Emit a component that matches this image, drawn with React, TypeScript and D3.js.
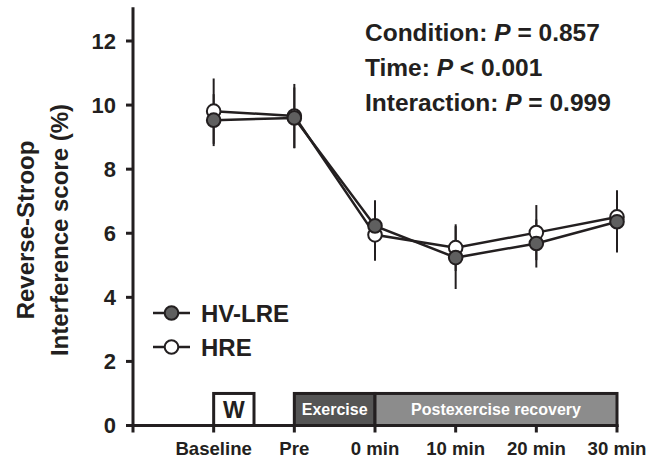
import React, { useRef, useEffect } from 'react';
import * as d3 from 'd3';

const categories = ['Baseline', 'Pre', '0 min', '10 min', '20 min', '30 min'];
const hvlreMean = [9.53, 9.6, 6.23, 5.24, 5.68, 6.36];
const hvlreSE = [0.81, 0.95, 0.8, 0.98, 0.75, 0.96];
const hreMean = [9.81, 9.66, 5.95, 5.55, 6.02, 6.51];
const hreSE = [1.02, 1.0, 0.81, 0.73, 0.86, 0.83];
const yTicks = [0, 2, 4, 6, 8, 10, 12];
const statLines = [
  { label: 'Condition: ', rel: ' = ', value: '0.857' },
  { label: 'Time: ', rel: ' < ', value: '0.001' },
  { label: 'Interaction: ', rel: ' = ', value: '0.999' },
];
// phase boxes: [start index, end index, label, fill]
const phases: [number, number, string, string][] = [
  [0, 0.5, 'W', '#ffffff'],
  [1, 2, 'Exercise', '#555555'],
  [2, 5, 'Postexercise recovery', '#8c8c8c'],
];

const INK = '#231f20';
const FONT = 'Liberation Sans, Arial, sans-serif';

function App() {
  const svgRef = useRef<SVGSVGElement>(null);

  useEffect(() => {
    const svg = d3.select(svgRef.current);
    svg.selectAll('*').remove();

    const x = d3.scaleLinear().domain([-1, 5]).range([133, 617]);
    const y = d3.scaleLinear().domain([0, 12]).range([425.5, 41]);

    // phase boxes
    phases.forEach(([a, b, label, fill]) => {
      svg
        .append('rect')
        .attr('x', x(a))
        .attr('y', y(1))
        .attr('width', x(b) - x(a))
        .attr('height', y(0) - y(1))
        .attr('fill', fill)
        .attr('stroke', INK)
        .attr('stroke-width', 3);
      const isW = label === 'W';
      svg
        .append('text')
        .attr('x', (x(a) + x(b)) / 2)
        .attr('y', (y(0) + y(1)) / 2)
        .attr('dy', '0.36em')
        .attr('text-anchor', 'middle')
        .attr('font-family', FONT)
        .attr('font-weight', 'bold')
        .attr('font-size', isW ? 23 : 16)
        .attr('fill', isW ? INK : '#ffffff')
        .text(label);
    });

    // axes
    const axisG = svg.append('g').attr('stroke', INK).attr('stroke-width', 3);
    axisG
      .append('line')
      .attr('x1', x(-1))
      .attr('x2', x(-1))
      .attr('y1', y(13.05))
      .attr('y2', y(0) + 1.5);
    axisG
      .append('line')
      .attr('x1', x(-1) - 1.5)
      .attr('x2', x(5) + 1.5)
      .attr('y1', y(0))
      .attr('y2', y(0));

    yTicks.forEach((t) => {
      axisG
        .append('line')
        .attr('x1', x(-1) - 7)
        .attr('x2', x(-1))
        .attr('y1', y(t))
        .attr('y2', y(t));
      svg
        .append('text')
        .attr('x', 116)
        .attr('y', y(t))
        .attr('dy', '0.36em')
        .attr('text-anchor', 'end')
        .attr('font-family', FONT)
        .attr('font-weight', 'bold')
        .attr('font-size', 22)
        .attr('fill', INK)
        .text(t);
    });

    [-1, 0, 1, 2, 3, 4, 5].forEach((i) => {
      axisG
        .append('line')
        .attr('x1', x(i))
        .attr('x2', x(i))
        .attr('y1', y(0))
        .attr('y2', y(0) + 7);
    });

    categories.forEach((c, i) => {
      svg
        .append('text')
        .attr('x', x(i))
        .attr('y', 455)
        .attr('text-anchor', 'middle')
        .attr('font-family', FONT)
        .attr('font-weight', 'bold')
        .attr('font-size', 18.6)
        .attr('fill', INK)
        .text(c);
    });

    // y title
    const title = svg
      .append('text')
      .attr('transform', 'translate(0,230) rotate(-90)')
      .attr('text-anchor', 'middle')
      .attr('font-family', FONT)
      .attr('font-weight', 'bold')
      .attr('font-size', 24)
      .attr('fill', INK);
    title.append('tspan').attr('x', 0).attr('y', 34).text('Reverse-Stroop');
    title.append('tspan').attr('x', 0).attr('y', 68).text('Interference score (%)');

    // series
    const series = [
      { mean: hreMean, se: hreSE, fill: '#ffffff' },
      { mean: hvlreMean, se: hvlreSE, fill: '#5f5f5f' },
    ];

    series.forEach((s) => {
      s.mean.forEach((m, i) => {
        svg
          .append('line')
          .attr('x1', x(i))
          .attr('x2', x(i))
          .attr('y1', y(m + s.se[i]))
          .attr('y2', y(m - s.se[i]))
          .attr('stroke', INK)
          .attr('stroke-width', 2);
      });
    });

    const line = d3
      .line<number>()
      .x((_, i) => x(i))
      .y((d) => y(d));

    series.forEach((s) => {
      svg
        .append('path')
        .datum(s.mean)
        .attr('fill', 'none')
        .attr('stroke', INK)
        .attr('stroke-width', 2.5)
        .attr('d', line);
      svg
        .selectAll(null)
        .data(s.mean)
        .enter()
        .append('circle')
        .attr('cx', (_, i) => x(i))
        .attr('cy', (d) => y(d))
        .attr('r', 6.8)
        .attr('fill', s.fill)
        .attr('stroke', INK)
        .attr('stroke-width', 2);
    });

    // legend
    const legend = [
      { label: 'HV-LRE', fill: '#5f5f5f', cy: 313 },
      { label: 'HRE', fill: '#ffffff', cy: 347 },
    ];
    legend.forEach((l) => {
      svg
        .append('line')
        .attr('x1', 153)
        .attr('x2', 190)
        .attr('y1', l.cy)
        .attr('y2', l.cy)
        .attr('stroke', INK)
        .attr('stroke-width', 2.5);
      svg
        .append('circle')
        .attr('cx', 171.5)
        .attr('cy', l.cy)
        .attr('r', 6.8)
        .attr('fill', l.fill)
        .attr('stroke', INK)
        .attr('stroke-width', 2);
      svg
        .append('text')
        .attr('x', 201)
        .attr('y', l.cy)
        .attr('dy', '0.36em')
        .attr('font-family', FONT)
        .attr('font-weight', 'bold')
        .attr('font-size', 24)
        .attr('fill', INK)
        .text(l.label);
    });

    // statistics
    statLines.forEach((s, i) => {
      const t = svg
        .append('text')
        .attr('x', 365)
        .attr('y', 41 + i * 35)
        .attr('font-family', FONT)
        .attr('font-weight', 'bold')
        .attr('font-size', 24.5)
        .attr('fill', INK);
      t.append('tspan').text(s.label);
      t.append('tspan').attr('font-style', 'italic').text('P');
      t.append('tspan').text(s.rel + s.value);
    });
  }, []);

  return (
    <svg
      ref={svgRef}
      width={660}
      height={458}
      xmlns="http://www.w3.org/2000/svg"
      style={{ position: 'absolute', left: 0, top: 0, background: '#fff' }}
    />
  );
}

export default App;
